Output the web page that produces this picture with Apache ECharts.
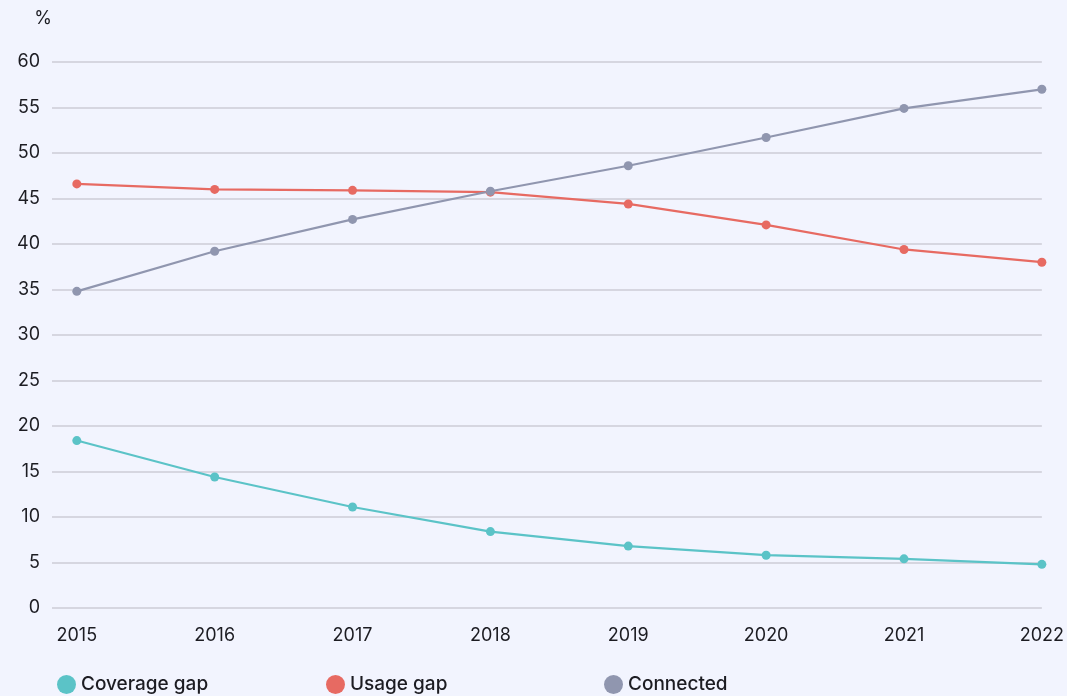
<!DOCTYPE html>
<html>
<head>
<meta charset="utf-8">
<script src="https://cdn.jsdelivr.net/npm/echarts@6/dist/echarts.min.js"></script>
<style>
  html, body { margin: 0; padding: 0; background: #F2F4FE; }
  #chart { width: 1067px; height: 696px; }
</style>
</head>
<body>
<div id="chart"></div>
<script>
var years = [2015, 2016, 2017, 2018, 2019, 2020, 2021, 2022];
var coverageGap = [18.4, 14.4, 11.1, 8.4, 6.8, 5.8, 5.4, 4.8];
var usageGap = [46.6, 46.0, 45.9, 45.7, 44.4, 42.1, 39.4, 38.0];
var connected = [34.8, 39.2, 42.7, 45.8, 48.6, 51.7, 54.9, 57.0];

var textColor = '#1C1C22';
var font = 'Inter';

function pairs(vals) {
    return vals.map(function (v, i) { return [years[i], v]; });
}

function mkSeries(name, vals, color) {
    return {
        name: name,
        type: 'line',
        data: pairs(vals),
        symbol: 'circle',
        symbolSize: 9,
        showAllSymbol: true,
        lineStyle: { color: color, width: 2.2 },
        itemStyle: { color: color },
        emphasis: { disabled: true }
    };
}

function mkLegend(name, left) {
    return {
        data: [name],
        left: left,
        top: 670,
        icon: 'circle',
        itemWidth: 19,
        itemHeight: 19,
        itemGap: 0,
        textStyle: { color: textColor, fontFamily: font, fontSize: 19, fontWeight: 500, padding: [0, 0, 0, 0] }
    };
}

var chart = echarts.init(document.getElementById('chart'));
chart.setOption({
    backgroundColor: '#F2F4FE',
    animation: false,
    grid: { left: 52, right: 25, top: 62, bottom: 88, containLabel: false },
    legend: [
        mkLegend('Coverage gap', 52),
        mkLegend('Usage gap', 321),
        mkLegend('Connected', 599)
    ],
    xAxis: {
        type: 'value',
        min: 2014.82,
        max: 2022,
        axisLine: { show: false },
        axisTick: { show: false },
        splitLine: { show: false },
        axisLabel: {
            customValues: years,
            color: textColor,
            fontFamily: font,
            fontSize: 18,
            margin: 19,
            formatter: function (v) { return String(v); }
        }
    },
    yAxis: {
        type: 'value',
        min: 0,
        max: 60,
        interval: 5,
        name: '%',
        nameLocation: 'end',
        nameGap: 34,
        nameTextStyle: { color: textColor, fontFamily: font, fontSize: 18, align: 'right', padding: [0, 0, 0, 0] },
        axisLine: { show: false },
        axisTick: { show: false },
        axisLabel: { color: textColor, fontFamily: font, fontSize: 18, margin: 12 },
        splitLine: { lineStyle: { color: '#CDCDD6', width: 1.5 } }
    },
    series: [
        mkSeries('Coverage gap', coverageGap, '#5BC3C7'),
        mkSeries('Usage gap', usageGap, '#E76A62'),
        mkSeries('Connected', connected, '#9096AF')
    ]
});
</script>
</body>
</html>
